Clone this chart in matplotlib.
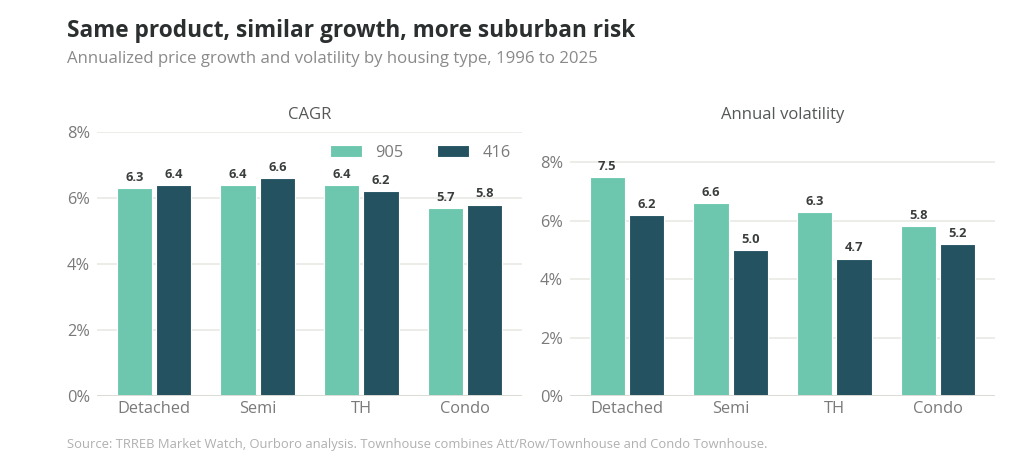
import matplotlib
matplotlib.use("Agg")
import matplotlib.pyplot as plt
import numpy as np

categories = ["Detached", "Semi", "TH", "Condo"]
series_names = ["905", "416"]
cagr_905 = [6.3, 6.4, 6.4, 5.7]
cagr_416 = [6.4, 6.6, 6.2, 5.8]
vol_905 = [7.5, 6.6, 6.3, 5.8]
vol_416 = [6.2, 5.0, 4.7, 5.2]
yticks = [0, 2, 4, 6, 8]
ytick_labels = ["0%", "2%", "4%", "6%", "8%"]

C905 = "#6dc7ae"
C416 = "#245260"
GRID = "#e9e9e4"
TICK = "#7a7a7a"
DARK = "#2b2f2f"

plt.rcParams["font.family"] = ["Open Sans", "DejaVu Sans"]

fig = plt.figure(figsize=(10.24, 4.61), dpi=100)
ax1 = fig.add_axes([97/1024, 1-396/461, (522-97)/1024, (396-132)/461])
ax2 = fig.add_axes([570/1024, 1-396/461, (995-570)/1024, (396-132)/461])

w = 0.34
off = 0.19
x = np.arange(len(categories))

def draw(ax, a, b, ymax):
    b1 = ax.bar(x - off, a, w, color=C905, edgecolor="white", linewidth=0.8, label=series_names[0], zorder=3)
    b2 = ax.bar(x + off, b, w, color=C416, edgecolor="white", linewidth=0.8, label=series_names[1], zorder=3)
    for bars, vals in ((b1, a), (b2, b)):
        for r, v in zip(bars, vals):
            ax.annotate(f"{v:.1f}", (r.get_x() + r.get_width()/2, v), xytext=(0, 3),
                        textcoords="offset points", ha="center", va="bottom",
                        fontsize=9.3, fontweight="bold", color="#3a3d3d")
    ax.set_xlim(-0.55, 3.55)
    ax.set_ylim(0, ymax)
    ax.set_yticks(yticks)
    ax.set_yticklabels(ytick_labels)
    ax.set_xticks(x)
    ax.set_xticklabels(categories)
    ax.tick_params(axis="both", length=0, labelsize=11.8, colors=TICK, pad=3.5)
    ax.tick_params(axis="y", pad=5)
    for s in ax.spines.values():
        s.set_visible(False)
    ax.grid(axis="y", color=GRID, linewidth=1.2, zorder=0)
    ax.axhline(0, color="#dcdcd6", linewidth=1.4, zorder=4)
    return b1, b2

draw(ax1, cagr_905, cagr_416, 8.0)
draw(ax2, vol_905, vol_416, 9.03)

fig.text((97+522)/2/1024, 1-115/461, "CAGR", ha="center", va="center", fontsize=12, color="#555858")
fig.text((570+995)/2/1024, 1-115/461, "Annual volatility", ha="center", va="center", fontsize=12, color="#555858")

leg = ax1.legend(loc="upper right", ncol=2, frameon=False, fontsize=11.8, labelcolor=TICK,
                 handlelength=2.0, handleheight=0.75, columnspacing=2.0, handletextpad=0.8,
                 bbox_to_anchor=(1.0, 0.995), borderaxespad=0.3)

fig.text(67/1024, 1-31/461, "Same product, similar growth, more suburban risk", ha="left", va="center",
         fontsize=16.3, fontweight="bold", color=DARK)
fig.text(67/1024, 1-59/461, "Annualized price growth and volatility by housing type, 1996 to 2025", ha="left",
         va="center", fontsize=12.1, color="#8a8a8a")
fig.text(67/1024, 1-444/461, "Source: TRREB Market Watch, Ourboro analysis. Townhouse combines Att/Row/Townhouse and Condo Townhouse.",
         ha="left", va="center", fontsize=9.4, color="#b0b0b0")

fig.savefig("out.png", dpi=100, facecolor="white")
